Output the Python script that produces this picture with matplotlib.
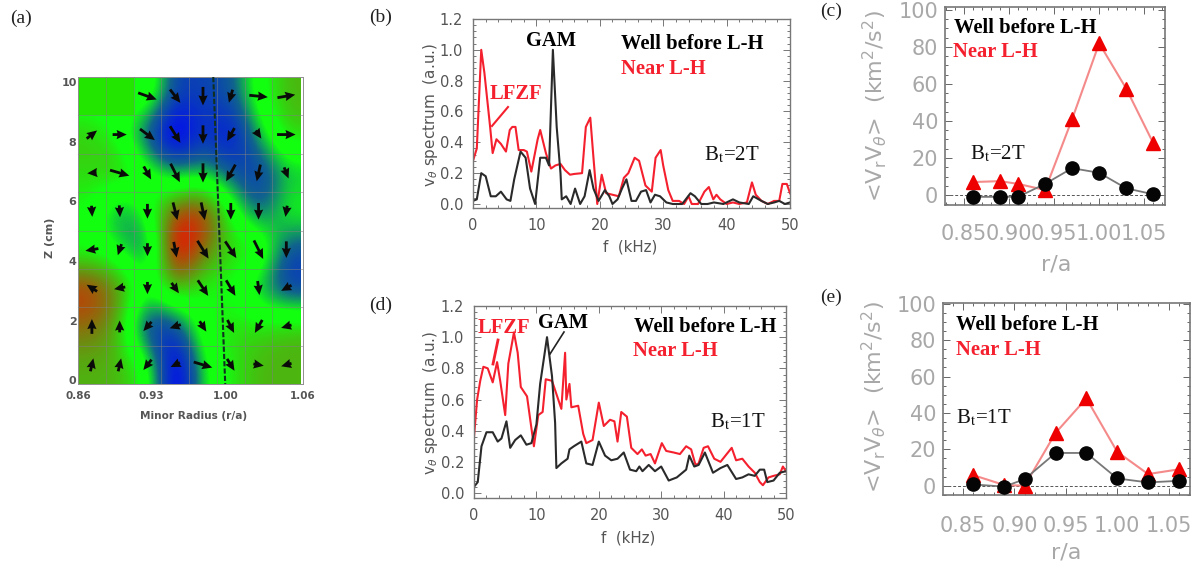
import numpy as np
import matplotlib
matplotlib.use("Agg")
import matplotlib.pyplot as plt
from matplotlib.colors import LinearSegmentedColormap
from matplotlib.lines import Line2D
from matplotlib.patches import Rectangle
from matplotlib.ticker import AutoMinorLocator

W, H = 1201, 571

# ---------- panel (a): field and arrows (8 x 8 cells, top row first)
field = [
    [0.0, 0.0, 0.2, -0.55, -0.5, -0.45, 0.05, 0.3],
    [0.25, 0.05, -0.55, -1.0, -0.55, -0.8, -0.2, 0.25],
    [0.2, 0.35, 0.08, -0.3, -0.2, -0.45, -0.6, -0.25],
    [0.1, -0.4, 0.0, 0.65, 0.75, 0.1, -0.5, 0.0],
    [0.02, -0.1, -0.5, 1.0, 0.5, 0.2, 0.3, -0.5],
    [0.7, 0.45, 0.0, 0.4, 0.05, 0.1, -0.3, -0.6],
    [0.5, 0.3, -0.7, -0.55, 0.1, 0.2, 0.2, 0.3],
    [0.3, 0.3, 0.1, -1.0, -0.1, 0.15, 0.3, 0.3],
]
arrow_u = [
    [0, 0, 50, 28, 0, -10, 50, 48],
    [28, 38, 40, 28, 0, -20, 15, 50],
    [-25, 52, 20, 25, 0, -25, -10, 12],
    [2, 2, 0, 12, 10, 0, 0, -5],
    [-35, -10, 0, 8, 30, 30, 25, 0],
    [-28, -30, 0, 20, 28, 25, 5, -28],
    [0, 0, -22, -30, 18, 18, -20, -28],
    [8, 8, -22, -25, 50, 20, 28, -28],
]
arrow_v = [
    [0, 0, -18, -36, -50, -35, -5, 8],
    [22, 0, -30, -45, -50, -35, -22, 0],
    [-2, -15, -35, -50, -52, -45, -45, -30],
    [-30, -32, -40, -48, -48, -45, -45, -30],
    [-6, -30, -35, -42, -48, -45, -50, -45],
    [18, -6, -33, -28, -42, -42, -38, -15],
    [40, 32, -25, -10, -28, -35, -35, -8],
    [35, 35, -28, -12, -15, -32, -5, -8],
]
a_xticklabels = ["0.86", "0.93", "1.00", "1.06"]
a_xticks = [0.0, 2.63, 5.33, 8.1]
a_yticks = [0, 2, 4, 6, 8, 10]

# ---------- panel (b)
b_red_f = [0, .6, 1.3, 1.8, 2.7, 3.1, 3.7, 4.4, 5.2, 5.8, 6.2, 6.7, 7.2, 8, 8.5, 9.2, 10.2, 10.6, 11.5, 12.3, 13, 13.8,
           14.5, 15.3, 16, 17.2, 17.8, 18.5, 19, 19.6, 20.3, 21, 22, 23, 23.8, 24.5, 25.5, 26.2, 27.2, 28.2, 28.8, 29.6,
           30, 30.8, 31.5, 32.5, 33.3, 34, 34.5, 35.5, 36.5, 37.2, 37.9, 38.4, 39, 40, 41, 42, 43.2, 44, 44.6, 45.5,
           46.5, 47.5, 48.3, 48.8, 49.5, 50]
b_red_v = [.28, .36, 1.0, .85, .5, .33, .42, .39, .34, .48, .5, .5, .35, .35, .34, .21, .42, .48, .33, .23, .25, .26,
           .22, .19, .195, .2, .5, .56, .3, 0, .19, .07, .06, .05, .17, .2, .3, .28, .12, .08, .3, .35,
           .25, .09, .02, .02, 0, .05, 0, 0, .08, .11, .03, .06, .03, 0, .01, 0, .01, .14, .06, .02,
           0, .02, .02, .13, .13, .07]
b_blk_f = [0, .6, 1.3, 2, 2.8, 3.6, 4.4, 5.3, 5.9, 6.5, 7, 7.5, 8.3, 9, 9.8, 10.6, 11.5, 12, 12.6, 13.2, 13.8, 14, 14.7,
           15.4, 16.1, 16.9, 17.6, 18.4, 19, 19.8, 20.8, 21.5, 22, 22.8, 23.5, 24.2, 25, 25.7, 26.5, 27.3, 28, 28.7,
           29.5, 30.5, 31.5, 33, 34.3, 35, 36, 37, 38, 39.5, 41, 42, 43.5, 44.2, 45.5, 46.5, 47.5, 48.3, 49.2, 50]
b_blk_v = [.02, .03, .2, .18, .05, .05, .08, .03, .02, .16, .25, .34, .3, .1, 0, .3, .3, .25, 1.0, .5, .2, .03, .05,
           0, .1, 0, .05, .22, .1, .02, .09, .05, 0, .03, .1, .16, .02, .02, .08, .09, .01, .06,
           .05, .01, 0, 0, .07, .05, 0, 0, .01, 0, .03, .01, 0, .05, .02, 0, .01, .02, 0, .01]

# ---------- panel (d)
d_red_f = [0, .5, 1, 1.5, 2.2, 3, 3.7, 4.2, 5, 5.5, 6.4, 7, 7.5, 8.5, 9.6, 10.3, 11, 11.5, 12.5, 14, 14.6, 14.8, 15.3,
           15.6, 16.7, 17.5, 18, 19, 20, 20.8, 21.8, 22.5, 23, 23.6, 24.5, 25.2, 26.2, 26.9, 27.5, 28.3, 29, 30.1,
           30.8, 32, 33, 34, 34.8, 35.5, 36, 36.8, 37.5, 38.5, 39.5, 40.3, 41.3, 42, 43, 44, 45, 45.8, 46.3, 47.2,
           48, 49, 49.5, 50]
d_red_v = [.36, .6, .72, .81, .8, .71, .84, .72, .5, .83, 1.03, .9, .68, .62, .3, .5, .52, .73, .72, .54, .9, .6, .7,
           .55, .56, .38, .32, .34, .58, .43, .47, .46, .33, .52, .49, .29, .25, .28, .24, .25, .19, .32,
           .27, .26, .25, .3, .28, .18, .19, .29, .3, .22, .2, .24, .29, .21, .22, .17, .13, .07, .05, .1,
           .11, .12, .17, .14]
d_blk_f = [0, .6, 1.2, 2, 3, 3.8, 4.4, 5.2, 5.8, 6.6, 7.5, 8.4, 9.2, 10, 10.6, 11.7, 12.5, 13, 13.2, 14, 15, 15.3, 16,
           17.2, 18, 19, 20, 21, 22, 23, 24, 25, 26, 26.5, 27, 28, 29, 30, 31.2, 32.5, 34, 34.5, 35.3, 36, 37, 38.3,
           39.5, 40.6, 42, 43, 44, 45, 45.8, 46.5, 47, 48, 49, 50]
d_blk_v = [.04, .07, .3, .39, .39, .33, .35, .46, .29, .34, .37, .31, .32, .44, .7, 1.0, .75, .45, .16, .19, .22, .28,
           .3, .33, .19, .18, .33, .24, .21, .22, .26, .15, .14, .17, .14, .18, .14, .17, .08, .1, .15, .24, .17, .18,
           .26, .13, .16, .18, .09, .1, .12, .11, .15, .15, .07, .08, .13, .14]

# ---------- panels (c) and (e)
r_a = [0.86, 0.89, 0.91, 0.94, 0.97, 1.00, 1.03, 1.06]
c_red = [7, 7.5, 6, 2.7, 41, 82, 57.5, 28]
c_blk = [-1, -1, -1, 6, 14.5, 12, 3.6, 0.4]
e_red = [5.8, 0.4, 0, 29, 48, 18.6, 6.4, 9]
e_blk = [0.7, -0.5, 3.6, 18, 18, 4, 1.8, 2.7]
ra_ticks = [0.85, 0.90, 0.95, 1.00, 1.05]
ra_labels = ["0.85", "0.90", "0.95", "1.00", "1.05"]

RED = "#f5202e"
PINK = "#f58a8a"
TXT = "#555555"
LGRAY = "#a8a8a8"


def add_axes(l, t, r, b):
    return fig.add_axes([l / W, 1 - b / H, (r - l) / W, (b - t) / H])


def ftext(x, y, s, **kw):
    kw.setdefault("ha", "left")
    kw.setdefault("va", "center")
    fig.text(x / W, 1 - y / H, s, **kw)


def fline(x0, y0, x1, y1, color, lw=1.5):
    fig.add_artist(Line2D([x0 / W, x1 / W], [1 - y0 / H, 1 - y1 / H], color=color, lw=lw))


fig = plt.figure(figsize=(W / 100, H / 100), dpi=100)
SERIF = "Liberation Serif"

# panel a
axa = add_axes(78, 77, 303, 384)
cmap = LinearSegmentedColormap.from_list(
    "bgr", [(0, "#0000ff"), (.27, "#10648c"), (.45, "#12ff10"), (.56, "#12ff10"), (.76, "#6f8a10"), (1, "#ff0000")])
z0, z1 = -0.13, 10.17
axa.imshow(np.array(field), cmap=cmap, vmin=-0.8, vmax=0.8, aspect="auto",
           extent=(0, 8, z0, z1), interpolation="bicubic", interpolation_stage="data")
dz = (z1 - z0) / 8
axa.add_patch(Rectangle((0, z1 - dz), 2, dz, color="#22e600", lw=0, zorder=2))
for i in range(1, 8):
    axa.axvline(i, color="#808080", lw=0.6, alpha=0.6, zorder=3)
    axa.axhline(z0 + i * dz, color="#808080", lw=0.6, alpha=0.6, zorder=3)
xs, ys = np.meshgrid(np.arange(8) + 0.5, z1 - (np.arange(8) + 0.5) * dz)
u = np.array(arrow_u, float)
v = np.array(arrow_v, float)
m = (u != 0) | (v != 0)
axa.quiver(xs[m], ys[m], u[m], v[m], units="dots", angles="uv", scale_units="dots", scale=2.7,
           width=2.8, headwidth=3.3, headlength=3.6, headaxislength=3.3, minshaft=0.3, minlength=0.5,
           pivot="mid", color="#0a0a0a", zorder=4)
axa.plot([4.87, 5.3], [z1, z0], color="#103020", lw=1.5, ls=(0, (2.5, 1)), zorder=5)
axa.set_xlim(0, 8)
axa.set_ylim(z0, z1)
axa.set_xticks(a_xticks, a_xticklabels, fontsize=7.5, fontweight="bold", color=TXT, clip_on=False)
axa.set_yticks(a_yticks, [str(t) for t in a_yticks], fontsize=8, fontweight="bold", color=TXT)
axa.tick_params(axis="x", length=0, pad=5)
axa.tick_params(axis="y", length=0, pad=1)
for s in axa.spines.values():
    s.set_color("#909090")
    s.set_linewidth(0.7)
ftext(194, 416, "Minor Radius (r/a)", fontsize=7.6, fontweight="bold", color=TXT, ha="center")
ftext(50, 238, "Z (cm)", fontsize=8, fontweight="bold", color=TXT, ha="center", rotation=90)


def spectrum(ax, rf, rv, bf, bv, ymin):
    ax.plot(rf, rv, color=RED, lw=1.5)
    ax.plot(bf, bv, color="#2a2a2a", lw=1.5)
    ax.set_xlim(0, 50)
    ax.set_ylim(ymin, 1.2)
    ax.set_xticks([0, 10, 20, 30, 40, 50])
    ax.set_yticks([0, .2, .4, .6, .8, 1.0, 1.2])
    ax.set_yticklabels(["0.0", "0.2", "0.4", "0.6", "0.8", "1.0", "1.2"])
    ax.xaxis.set_minor_locator(AutoMinorLocator(5))
    ax.yaxis.set_minor_locator(AutoMinorLocator(5))
    ax.tick_params(which="both", direction="in", top=True, right=True, color="#777777", width=0.7)
    ax.tick_params(which="major", length=5, labelsize=10.5, labelcolor=TXT, pad=7)
    ax.tick_params(which="minor", length=2.5)
    for s in ax.spines.values():
        s.set_color("#777777")
        s.set_linewidth(1.0)


axb = add_axes(473, 19, 790, 208)
spectrum(axb, b_red_f, b_red_v, b_blk_f, b_blk_v, -0.026)
axd = add_axes(474, 306, 786, 498)
spectrum(axd, d_red_f, d_red_v, d_blk_f, d_blk_v, -0.032)

ylab = r"v$_{\theta}$ spectrum  (a.u.)"
ftext(430, 115, ylab, fontsize=11, color=TXT, rotation=90, ha="center")
ftext(430, 403, ylab, fontsize=11, color=TXT, rotation=90, ha="center")
ftext(630, 247, "f  (kHz)", fontsize=10.8, color=TXT, ha="center")
ftext(628, 538, "f  (kHz)", fontsize=10.8, color=TXT, ha="center")

sb = dict(family=SERIF, fontweight="bold", fontsize=14.8)
bt = dict(family=SERIF, fontsize=15, color="#111111", math_fontfamily="stix")
ftext(621, 44, "Well before L-H", color="#000000", **sb)
ftext(621, 69, "Near L-H", color=RED, **sb)
ftext(526, 41, "GAM", color="#000000", **sb)
ftext(490, 94, "LFZF", color=RED, **sb)
fline(508, 107, 492, 126, RED)
ftext(704, 155, "B$_{\\mathrm{t}}$=2T", **bt)

ftext(634, 327, "Well before L-H", color="#000000", **sb)
ftext(633, 351, "Near L-H", color=RED, **sb)
ftext(538, 323, "GAM", color="#000000", **sb)
ftext(478, 328, "LFZF", color=RED, **sb)
fline(498, 340, 493, 364, RED, lw=2)
fline(564, 332, 550, 354, "#222222", lw=1.2)
ftext(710, 422, "B$_{\\mathrm{t}}$=1T", **bt)


def shear(ax, red, blk, xlim, ylim, xpad):
    ax.plot(r_a, red, color=PINK, lw=1.5, marker="^", ms=10.5, mfc="#ee0000", mec="#ee0000", zorder=3)
    ax.plot(r_a, blk, color="#777777", lw=1.3, marker="o", ms=9.5, mfc="#050505", mec="#050505", zorder=4)
    ax.axhline(0, color="#555555", lw=0.7, ls=(0, (3, 2)), zorder=1)
    ax.set_xlim(*xlim)
    ax.set_ylim(*ylim)
    ax.set_xticks(ra_ticks, ra_labels)
    ax.set_yticks([0, 20, 40, 60, 80, 100])
    ax.xaxis.set_minor_locator(AutoMinorLocator(5))
    ax.yaxis.set_minor_locator(AutoMinorLocator(4))
    ax.tick_params(which="both", direction="in", top=True, right=True, color="#666666", width=0.7)
    ax.tick_params(which="major", length=5, labelcolor=LGRAY, labelsize=15)
    ax.tick_params(axis="x", which="major", pad=xpad)
    ax.tick_params(axis="y", which="major", pad=5)
    ax.tick_params(which="minor", length=2.5)
    for s in ax.spines.values():
        s.set_color("#777777")
        s.set_linewidth(1.2)


axc = add_axes(945, 7, 1165, 205)
shear(axc, c_red, c_blk, (0.829, 1.073), (-5.4, 101.6), 14)
axe = add_axes(943, 303, 1190, 495)
shear(axe, e_red, e_blk, (0.8305, 1.0708), (-5.1, 100.4), 15)

yl2 = r"<V$_{\mathrm{r}}$V$_{\theta}$>  (km$^{2}$/s$^{2}$)"
ftext(875, 106, yl2, fontsize=16, color=LGRAY, rotation=90, ha="center")
ftext(874, 397, yl2, fontsize=16, color=LGRAY, rotation=90, ha="center")
ftext(1056, 265, "r/a", fontsize=16, color=LGRAY, ha="center")
ftext(1066, 552, "r/a", fontsize=16, color=LGRAY, ha="center")

ftext(954, 28, "Well before L-H", color="#000000", **sb)
ftext(953, 52, "Near L-H", color=RED, **sb)
ftext(970, 154, "B$_{\\mathrm{t}}$=2T", **bt)
ftext(956, 325, "Well before L-H", color="#000000", **sb)
ftext(956, 350, "Near L-H", color=RED, **sb)
ftext(956, 418, "B$_{\\mathrm{t}}$=1T", **bt)

lab = dict(family=SERIF, fontsize=14, color="#222222")
ftext(10, 18, "(a)", **lab)
ftext(369, 17, "(b)", **lab)
ftext(820, 11, "(c)", **lab)
ftext(369, 305, "(d)", **lab)
ftext(820, 297, "(e)", **lab)

fig.savefig("out.png", dpi=100)
